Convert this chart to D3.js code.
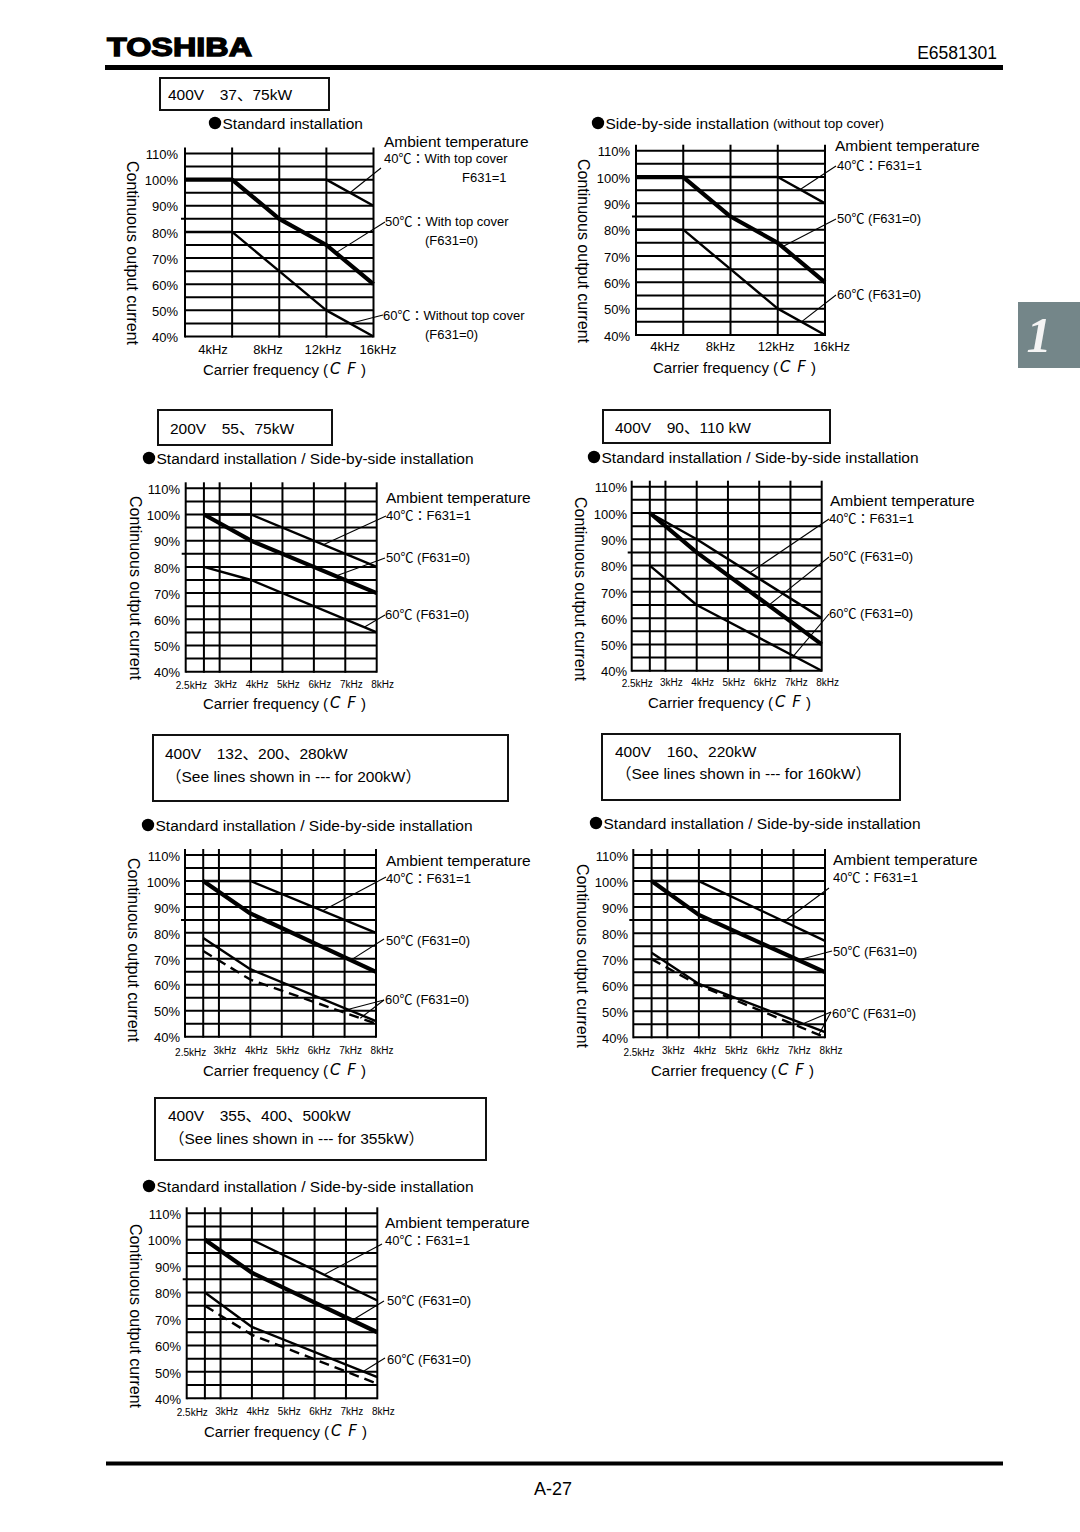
<!DOCTYPE html>
<html><head><meta charset="utf-8">
<script src="https://cdn.jsdelivr.net/npm/d3@7/dist/d3.min.js"></script>
<style>
body{margin:0;background:#fff;}
svg text{font-family:"Liberation Sans",Arial,"Noto Sans CJK JP",sans-serif;fill:#000;}
</style></head><body>
<svg id="page" width="1080" height="1532"></svg>
<script>
// ---------------- DATA ----------------
const yTickVals = [40, 50, 60, 70, 80, 90, 100, 110];
const yTickLabels = ["40%", "50%", "60%", "70%", "80%", "90%", "100%", "110%"];
const xTickValsA = [4, 8, 12, 16];
const xTickLabelsA = ["4kHz", "8kHz", "12kHz", "16kHz"];
const xTickValsB = [2.5, 3, 4, 5, 6, 7, 8];
const xTickLabelsB = ["2.5kHz", "3kHz", "4kHz", "5kHz", "6kHz", "7kHz", "8kHz"];

// chart 1: 400V 37,75kW standard installation  [kHz, %]
const c1_40 = [[0, 100], [12, 100], [16, 90]];
const c1_50 = [[0, 100], [4, 100], [8, 85], [12, 75], [16, 60]];
const c1_60 = [[0, 80], [4, 80], [8, 65], [12, 50], [16, 40]];
// chart 2: side-by-side
const c2_40 = [[0, 100], [12, 100], [16, 90]];
const c2_50 = [[0, 100], [4, 100], [8, 85], [12, 75], [16, 60]];
const c2_60 = [[0, 80], [4, 80], [8, 65], [12, 50], [16, 40]];
// chart 3: 200V 55,75kW
const c3_40 = [[2.5, 100], [4, 100], [8, 80]];
const c3_50 = [[2.5, 100], [4, 90], [8, 70]];
const c3_60 = [[2.5, 80], [4, 75], [8, 55]];
// chart 4: 400V 90,110kW
const c4_40 = [[2.5, 100], [4, 90], [8, 60]];
const c4_50 = [[2.5, 100], [4, 85], [8, 50]];
const c4_60 = [[2.5, 80], [4, 65], [8, 40]];
// chart 5: 400V 132,200,280kW (dashed = 200kW)
const c5_40 = [[2.5, 100], [4, 100], [8, 80]];
const c5_50 = [[2.5, 100], [4, 87.5], [8, 65]];
const c5_60 = [[2.5, 78], [4, 66], [8, 46]];
const c5_60d = [[2.5, 73], [4, 62], [8, 45]];
// chart 6: 400V 160,220kW (dashed = 160kW)
const c6_40 = [[2.5, 100], [4, 100], [8, 77]];
const c6_50 = [[2.5, 100], [4, 87], [8, 65]];
const c6_60 = [[2.5, 72.5], [4, 60.5], [8, 42]];
const c6_60d = [[2.5, 70], [4, 60], [8, 40]];
// chart 7: 400V 355,400,500kW (dashed = 355kW)
const c7_40 = [[2.5, 100], [4, 100], [8, 77]];
const c7_50 = [[2.5, 100], [4, 87.5], [8, 65]];
const c7_60 = [[2.5, 80], [4, 67], [8, 48]];
const c7_60d = [[2.5, 75], [4, 64], [8, 45.5]];

// ---------------- LAYOUT ----------------
const SUB = "Standard installation / Side-by-side installation";
const charts = [
 { series: {"40": c1_40, "50": c1_50, "60": c1_60}, type: "A",
   xDomain: [0, 16], xRange: [185, 373.5], yRange: [336.5, 153.5],
   yLabelRight: 178, axisTitle: [132, 253], xLabelRange: [213, 378], xLabelY: 349, xTitle: [203, 369],
   box: [160, 78, 169, 32], boxLines: [["400V　37、75kW", 168, 94]],
   subtitle: ["Standard installation", 209, 123],
   notes: [["Ambient temperature", 384, 141, 15.5], ["40℃：With top cover", 384, 158, 13], ["F631=1", 462, 177, 13],
           ["50℃：With top cover", 385, 221, 13], ["(F631=0)", 425, 240, 13],
           ["60℃：Without top cover", 383, 315, 13], ["(F631=0)", 425, 334, 13]],
   leaders: [[381, 168, "40", 14], [385, 222, "50", 12.8], [383, 315, "60", 14]] },
 { series: {"40": c2_40, "50": c2_50, "60": c2_60}, type: "A",
   xDomain: [0, 16], xRange: [636, 825], yRange: [335, 150.7],
   yLabelRight: 630, axisTitle: [583, 251], xLabelRange: [665, 831.7], xLabelY: 346.7, xTitle: [653, 367],
   box: null, boxLines: [],
   subtitle: ["Side-by-side installation", 592, 123, " (without top cover)"],
   notes: [["Ambient temperature", 835, 145, 15.5], ["40℃：F631=1", 837, 165, 13],
           ["50℃ (F631=0)", 837, 218, 13], ["60℃ (F631=0)", 837, 294, 13]],
   leaders: [[836, 166, "40", 13.9], [836, 219, "50", 12.4], [836, 295, "60", 14]] },
 { series: {"40": c3_40, "50": c3_50, "60": c3_60}, type: "B",
   xDomain: [1.92, 8], xRange: [185.7, 376.7], yRange: [671.7, 488.3],
   yLabelRight: 180, axisTitle: [135, 588], xLabelY: 684, xTitle: [203, 703],
   box: [158, 410, 174, 35], boxLines: [["200V　55、75kW", 170, 428]],
   subtitle: [SUB, 143, 458],
   notes: [["Ambient temperature", 386, 497, 15.5], ["40℃：F631=1", 386, 515, 13],
           ["50℃ (F631=0)", 386, 557, 13], ["60℃ (F631=0)", 385, 614, 13]],
   leaders: [[386, 516, "40", 6.3], [385, 558, "50", 6.7], [385, 615, "60", 7.6]] },
 { series: {"40": c4_40, "50": c4_50, "60": c4_60}, type: "B",
   xDomain: [1.92, 8], xRange: [631.7, 821.7], yRange: [670.7, 486.7],
   yLabelRight: 627, axisTitle: [580, 589], xLabelY: 682.3, xTitle: [648, 702],
   box: [603, 410, 227, 33], boxLines: [["400V　90、110 kW", 615, 427]],
   subtitle: [SUB, 588, 457],
   notes: [["Ambient temperature", 830, 500, 15.5], ["40℃：F631=1", 829, 518, 13],
           ["50℃ (F631=0)", 829, 556, 13], ["60℃ (F631=0)", 829, 613, 13]],
   leaders: [[829, 519, "40", 5.7], [829, 557, "50", 6.3], [829, 614, "60", 7.1]] },
 { series: {"40": c5_40, "50": c5_50, "60": c5_60, "60d": c5_60d}, type: "B",
   xDomain: [1.92, 8], xRange: [185, 376], yRange: [1036.7, 855],
   yLabelRight: 180, axisTitle: [133, 950], xLabelY: 1050.7, xTitle: [203, 1070],
   box: [153, 735, 355, 66], boxLines: [["400V　132、200、280kW", 165, 753], ["（See lines shown in --- for 200kW）", 166, 776]],
   subtitle: [SUB, 142, 825],
   notes: [["Ambient temperature", 386, 860, 15.5], ["40℃：F631=1", 386, 878, 13],
           ["50℃ (F631=0)", 386, 940, 13], ["60℃ (F631=0)", 385, 999, 13]],
   leaders: [[386, 877, "40", 6.3], [384, 939, "50", 7.2], [384, 1000, "60", 7.1], [384, 1000, "60d", 7.5]] },
 { series: {"40": c6_40, "50": c6_50, "60": c6_60, "60d": c6_60d}, type: "B",
   xDomain: [1.92, 8], xRange: [633.3, 825], yRange: [1037.3, 855],
   yLabelRight: 628, axisTitle: [582, 956], xLabelY: 1050.7, xTitle: [651, 1070],
   box: [602, 734, 298, 66], boxLines: [["400V　160、220kW", 615, 751], ["（See lines shown in --- for 160kW）", 616, 773]],
   subtitle: [SUB, 590, 823],
   notes: [["Ambient temperature", 833, 859, 15.5], ["40℃：F631=1", 833, 877, 13],
           ["50℃ (F631=0)", 833, 951, 13], ["60℃ (F631=0)", 832, 1013, 13]],
   leaders: [[829, 888, "40", 6.7], [832, 951, "50", 7.15], [831, 1012, "60", 7.3], [831, 1012, "60d", 7.8]] },
 { series: {"40": c7_40, "50": c7_50, "60": c7_60, "60d": c7_60d}, type: "B",
   xDomain: [1.92, 8], xRange: [186.7, 377.3], yRange: [1398.3, 1213.3],
   yLabelRight: 181, axisTitle: [135, 1316], xLabelY: 1411, xTitle: [204, 1431],
   box: [155, 1098, 331, 62], boxLines: [["400V　355、400、500kW", 168, 1115], ["（See lines shown in --- for 355kW）", 169, 1138]],
   subtitle: [SUB, 143, 1186],
   notes: [["Ambient temperature", 385, 1222, 15.5], ["40℃：F631=1", 385, 1240, 13],
           ["50℃ (F631=0)", 387, 1300, 13], ["60℃ (F631=0)", 387, 1359, 13]],
   leaders: [[382, 1244, "40", 6.3], [384, 1301, "50", 7.2], [385, 1358, "60", 7.55]] }
];

const seriesStyle = {
  "40": {w: 2.4, dash: null},
  "50": {w: 4.2, dash: null},
  "60": {w: 2.4, dash: null},
  "60d": {w: 2.4, dash: "10,6"}
};

// ---------------- DRAW ----------------
const svg = d3.select("#page");

// header
svg.append("text").text("TOSHIBA").attr("x", 107).attr("y", 55.5)
  .attr("font-size", 26).attr("font-weight", 700)
  .attr("textLength", 145).attr("lengthAdjust", "spacingAndGlyphs")
  .attr("stroke", "#000").attr("stroke-width", 1.3);
svg.append("text").text("E6581301").attr("x", 997).attr("y", 59)
  .attr("text-anchor", "end").attr("font-size", 17.5);
svg.append("rect").attr("x", 105).attr("y", 65).attr("width", 898).attr("height", 5).attr("fill", "#000");
// footer
svg.append("rect").attr("x", 106).attr("y", 1461.5).attr("width", 897).attr("height", 4).attr("fill", "#000");
svg.append("text").text("A-27").attr("x", 553).attr("y", 1494.5)
  .attr("text-anchor", "middle").attr("font-size", 18);
// side tab
svg.append("rect").attr("x", 1018).attr("y", 302).attr("width", 62).attr("height", 66).attr("fill", "#748689");
svg.append("text").text("1").attr("x", 1039).attr("y", 352)
  .attr("text-anchor", "middle").attr("font-size", 50).attr("font-style", "italic").attr("font-weight", 700)
  .style("font-family", "'Liberation Serif','DejaVu Serif',serif").style("fill", "#f4f4f4");

function valueAt(pts, f) {
  for (let i = 0; i < pts.length - 1; i++) {
    const a = pts[i], b = pts[i + 1];
    if (f >= a[0] && f <= b[0]) return a[1] + (b[1] - a[1]) * (f - a[0]) / (b[0] - a[0]);
  }
  return pts[pts.length - 1][1];
}

function drawChart(L) {
  const g = svg.append("g");
  const x = d3.scaleLinear().domain(L.xDomain).range(L.xRange);
  const y = d3.scaleLinear().domain([40, 110]).range(L.yRange);
  const xMin = L.xRange[0], xMax = L.xRange[1];
  const yTop = y(110), yBot = y(40);
  const xTicks = L.type === "A" ? xTickValsA : xTickValsB;
  const xLabels = L.type === "A" ? xTickLabelsA : xTickLabelsB;

  // box and title text
  if (L.box) {
    g.append("rect").attr("x", L.box[0]).attr("y", L.box[1]).attr("width", L.box[2]).attr("height", L.box[3])
      .attr("fill", "none").attr("stroke", "#111").attr("stroke-width", 2);
  }
  L.boxLines.forEach(t => g.append("text").text(t[0]).attr("x", t[1]).attr("y", t[2])
    .attr("dominant-baseline", "central").attr("font-size", 15.5));
  // subtitle with big bullet
  g.append("circle").attr("cx", L.subtitle[1] + 6).attr("cy", L.subtitle[2]).attr("r", 6.2).attr("fill", "#000");
  const st = g.append("text").attr("x", L.subtitle[1] + 13.5).attr("y", L.subtitle[2])
    .attr("dominant-baseline", "central").attr("font-size", 15.5);
  st.append("tspan").text(L.subtitle[0]);
  if (L.subtitle[3]) st.append("tspan").text(L.subtitle[3]).attr("font-size", 13.5);

  // horizontal grid (every 5 %)
  g.selectAll(null).data(d3.range(40, 111, 5)).join("line")
    .attr("x1", d => d === 85 ? xMin - 4 : xMin).attr("x2", xMax)
    .attr("y1", d => y(d)).attr("y2", d => y(d))
    .attr("stroke", "#000").attr("stroke-width", 2);
  // vertical grid
  g.selectAll(null).data([L.xDomain[0]].concat(xTicks)).join("line")
    .attr("x1", d => x(d)).attr("x2", d => x(d))
    .attr("y1", yTop - 6).attr("y2", yBot + 1)
    .attr("stroke", "#000").attr("stroke-width", 2);

  // y axis labels via d3 axis
  const ya = g.append("g").attr("transform", `translate(${L.yLabelRight},0)`)
    .call(d3.axisLeft(y).tickValues(yTickVals).tickSize(0).tickPadding(0)
      .tickFormat((d, i) => yTickLabels[i]));
  ya.select(".domain").remove();
  ya.attr("font-family", null).attr("font-size", null);
  ya.selectAll("text").attr("font-size", 13).attr("dy", "0.4em");

  // x tick labels
  if (L.type === "A") {
    const xl = d3.scaleLinear().domain([4, 16]).range(L.xLabelRange);
    g.selectAll(null).data(xTicks).join("text")
      .text((d, i) => xLabels[i]).attr("x", d => xl(d)).attr("y", L.xLabelY)
      .attr("text-anchor", "middle").attr("dominant-baseline", "central").attr("font-size", 13);
  } else {
    g.selectAll(null).data(xTicks).join("text")
      .text((d, i) => xLabels[i])
      .attr("x", (d, i) => i === 0 ? x(d) + 3 : x(d) + 6)
      .attr("text-anchor", (d, i) => i === 0 ? "end" : "middle")
      .attr("y", (d, i) => i === 0 ? L.xLabelY + 1.5 : L.xLabelY)
      .attr("dominant-baseline", "central").attr("font-size", 10);
  }

  // axis titles
  g.append("text").text("Continuous output current")
    .attr("transform", `translate(${L.axisTitle[0]},${L.axisTitle[1]}) rotate(90)`)
    .attr("text-anchor", "middle").attr("dominant-baseline", "central").attr("font-size", 16);
  const xt = g.append("text").attr("x", L.xTitle[0]).attr("y", L.xTitle[1])
    .attr("dominant-baseline", "central").attr("font-size", 15);
  xt.append("tspan").text("Carrier frequency (");
  xt.append("tspan").text("C F").attr("font-style", "italic").attr("font-weight", 300)
    .style("font-family", "'DejaVu Sans',sans-serif").attr("letter-spacing", 1).attr("dx", 2);
  xt.append("tspan").text(" )");

  // series
  const line = d3.line().x(d => x(d[0])).y(d => y(d[1]));
  Object.keys(L.series).forEach(k => {
    const s = seriesStyle[k];
    g.append("path").datum(L.series[k]).attr("d", line)
      .attr("fill", "none").attr("stroke", "#000").attr("stroke-width", s.w)
      .attr("stroke-linejoin", "round")
      .attr("stroke-dasharray", s.dash);
  });

  // annotation texts
  L.notes.forEach(n => g.append("text").text(n[0]).attr("x", n[1]).attr("y", n[2])
    .attr("dominant-baseline", "central").attr("font-size", n[3]));
  // leader lines
  L.leaders.forEach(ld => {
    const pts = L.series[ld[2]];
    g.append("line").attr("x1", ld[0]).attr("y1", ld[1])
      .attr("x2", x(ld[3])).attr("y2", y(valueAt(pts, ld[3])))
      .attr("stroke", "#000").attr("stroke-width", 1.1);
  });
}

charts.forEach(drawChart);
</script>
</body></html>
